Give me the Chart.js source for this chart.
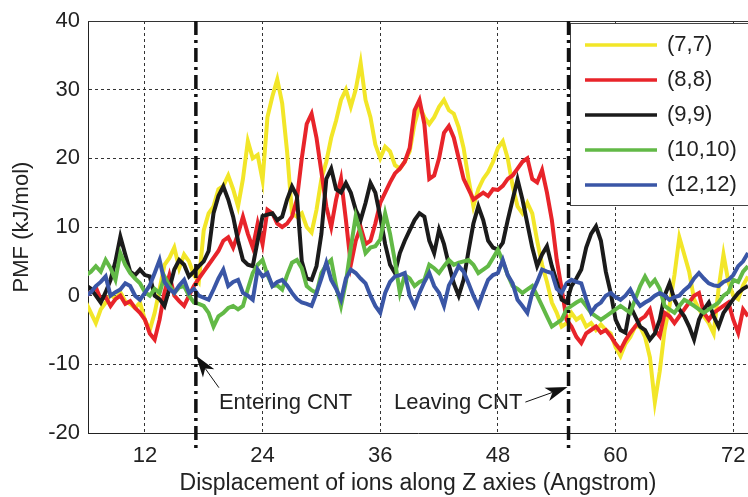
<!DOCTYPE html>
<html>
<head>
<meta charset="utf-8">
<script src="https://cdn.jsdelivr.net/npm/chart.js@4.4.0/dist/chart.umd.min.js"></script>
<style>
  html, body { margin: 0; padding: 0; background: #fff; }
  #wrap { width: 748px; height: 497px; }
</style>
</head>
<body>
<div id="wrap"><canvas id="pmf-chart" width="748" height="497"></canvas></div>
<script>
// Displacement of ions along Z (Angstrom)
const displacement = [
    6, 6.5, 7, 7.5, 8, 8.5, 9, 9.5, 10, 10.5, 11,
    11.5, 12, 12.5, 13, 13.5, 14, 14.5, 15, 15.5, 16,
    16.5, 17, 17.5, 18, 18.5, 19, 19.5, 20, 20.5, 21,
    21.5, 22, 22.5, 23, 23.5, 24, 24.5, 25, 25.5, 26,
    26.5, 27, 27.5, 28, 28.5, 29, 29.5, 30, 30.5, 31,
    31.5, 32, 32.5, 33, 33.5, 34, 34.5, 35, 35.5, 36,
    36.5, 37, 37.5, 38, 38.5, 39, 39.5, 40, 40.5, 41,
    41.5, 42, 42.5, 43, 43.5, 44, 44.5, 45, 45.5, 46,
    46.5, 47, 47.5, 48, 48.5, 49, 49.5, 50, 50.5, 51,
    51.5, 52, 52.5, 53, 53.5, 54, 54.5, 55, 55.5, 56,
    56.5, 57, 57.5, 58, 58.5, 59, 59.5, 60, 60.5, 61,
    61.5, 62, 62.5, 63, 63.5, 64, 64.5, 65, 65.5, 66,
    66.5, 67, 67.5, 68, 68.5, 69, 69.5, 70, 70.5, 71,
    71.5, 72, 72.5, 73, 73.5
];

// PMF (kJ/mol) per nanotube
const pmf77 = [
    -1, -2.5, -4, -2, -1, 0.2, -0.5, 0.5, -0.8, -1.2, -1.8,
    -1, -3.5, -5, -2.5, 1, 4.5, 5.5, 7, 4, 6,
    5, 3, 2, 9.5, 12, 13, 15.5, 16, 17.5, 15.5,
    13, 17, 22.5, 20, 20.5, 16.8, 26, 29, 31.5, 28,
    21, 12, 11.5, 12, 10, 9.2, 12.5, 17, 19.5, 23,
    25.5, 28.5, 30, 27.5, 30, 33.9, 28.5, 26, 22, 20,
    21.7, 21, 19, 18.5, 19.5, 21, 25, 27.6, 26, 25,
    26, 27.5, 28.5, 27, 26.5, 24.5, 21.5, 17, 13, 15.5,
    17, 18, 19.5, 21.5, 22.5, 20, 16, 13, 12, 13.5,
    12, 8, 4.5, 2, -1, -2.5, -4.5, -4, -2.5, -3.5,
    -3, -4.5, -4, -5, -4.2, -5, -5.5, -7.5, -8.8, -7,
    -6, -4.5, -4.5, -6, -9, -15.5, -11, -5, -1.5, 3,
    8.5, 6, 3.5, -0.5, -2, -3, -4, -5.5, 1, 6,
    2, 0, -0.5, 1.5, 2.8
];
const pmf88 = [
    0, 0.5, 1.2, -0.5, -0.2, -1.5, -0.5, 0, -1.2, -0.8, -1.8,
    -2.5, -3.5, -5.5, -6.4, -3.5, 0.5, 3, 0, -0.8, -1.5,
    0, 1.4, 2.5, 3.5, 4.5, 5.5, 6.5, 8, 8.5, 7,
    9, 11.5, 9, 7, 10.5, 7.5, 12.5, 12, 10.5, 10,
    10.5, 11.5, 14, 20, 25, 26.5, 23, 18, 13, 10,
    14, 17, 11, 4.5, 8, 10, 7.5, 8, 10.5, 13.5,
    15, 16.5, 17.8, 18.5, 19.5, 21.5, 27, 28.5, 25, 17,
    17.5, 20, 23.7, 24.7, 23, 20, 17, 15.5, 14, 14.5,
    15, 14.5, 15.5, 15.4, 16, 17, 17.5, 18.5, 19.5, 20,
    17, 16.5, 18.3, 15, 11, 5.2, 1, -3.5, -4.5, -6,
    -6.9, -5.5, -5, -4.5, -5.4, -5, -5.9, -7, -7.9, -6.5,
    -5.4, -4.5, -3.5, -3, -2, -5, -5.9, -2.5, -3, -4,
    -3, -2, -1, 0, 0.4, -2.5, -3.5, -2.5, -2, -1.5,
    -1, -3.5, -5.4, -2, -3
];
const pmf99 = [
    1.5, 1, 0, -1, 0.5, 2.3, 5, 8.6, 6, 3.5, 3,
    3.8, 3, 2.8, 0, -0.5, -1.5, 1, 3.8, 5.2, 4.5,
    2.8, 3.5, 4.3, 5, 6.5, 12, 14.5, 15.9, 14, 11.5,
    8, 5.2, 4.5, 4.3, 8, 11.6, 11.8, 12, 11, 11.5,
    14, 15.9, 14.5, 5, 2.5, 2.3, 4.3, 9, 17, 18.5,
    15.5, 15, 16.4, 15, 12.5, 11, 13.5, 16.4, 15, 11.5,
    7.5, 4.5, 3.3, 6.2, 8, 9.5, 11, 12, 11.5, 8,
    6.2, 9.6, 7.5, 4.5, 1.8, 0, 2.3, 6.5, 10.5, 13,
    11, 8, 7, 6.7, 7.7, 11, 14, 16.9, 14, 10.5,
    7, 4.3, 6, 7.2, 4.3, 2, -0.6, -1, 1.4, 2.5,
    3.8, 7, 9, 10.1, 8, 3.5, 0.4, -3.5, -5, -5.4,
    -1.5, -3, -4.5, -5, -6.4, -5.5, -3.5, 0, 1.8, -0.6,
    -2, -3, -4.5, -6.4, -3.5, -2, -1, -3, -4.5, -2.5,
    -1.5, -0.5, 0.4, 1, 1.4
];
const pmf1010 = [
    3, 3.5, 4.3, 3.5, 5.2, 4, 2.3, 6.2, 4.5, 3.3, 2.5,
    1.8, 0.5, 0, 1, 0.4, 2.8, 1.5, 0.4, 1.2, 1.4,
    0, -1, -1.2, -1.5, -2.5, -4.5, -3, -2.5, -1.8, -1.5,
    -2, -1.5, 1, 3.3, 4.5, 5.2, 3, 1.4, 1.5, 0.9,
    3, 4.8, 5.2, 4, 1.4, 0.8, 0.4, 3.3, 4.5, 5.2,
    1.4, -1.5, 2, 7, 11.6, 9.1, 6.2, 7, 7.2, 8.2,
    12, 9, 5, 0.4, 3, 2.5, 1.4, 2, 2.3, 4.5,
    4, 3.3, 4.3, 5.2, 4.5, 4.8, 5, 5.2, 4.5, 3.3,
    3.8, 4.3, 5.5, 6.7, 5, 3, 1.4, 1, 0.4, 0.9,
    1.4, 0, -1.5, -3, -4.5, -4, -3.5, -2, -1.5, -1,
    -0.6, -1.5, -2.5, -3, -3.5, -3, -2.5, -2, -1.5, -2,
    -2.5, -0.5, 1.4, 2.8, 1.5, 2.3, 1, -1.5, -2, -2.5,
    -1.5, -0.6, -1, -1.5, -2, -2.5, -2, -1.5, -1, 0,
    0.5, 2.3, 2, 3.5, 4.3
];
const pmf1212 = [
    0, 0.5, 1.4, 2, 2.8, 0, 0.5, 0.9, 1.8, 1.4, 0,
    -0.6, 0.4, 1.5, 3.3, 5.2, 2, 1, 0.4, 1.5, 2.3,
    0.4, 1, 0, -0.3, -0.6, 0.9, 2.5, 3.8, 1.4, 2,
    2.3, 0.4, 0, -0.6, 3.8, 2.8, 3.3, 1.4, 2, 2.3,
    1.5, 0.4, -0.5, -1, -1.2, -1.5, 0.4, 2.5, 4.8, 2.3,
    1, -0.6, 2.5, 3.8, 3.3, 2.5, 1.8, 0, -1.5, -2.5,
    0.4, 2, 2.8, 3, 3.3, 0, -1.5, 0.4, 2, 3.3,
    1.4, 0.4, -1.5, 1.5, 2.8, 4.3, 3.5, 1.8, 0, -1.5,
    0.5, 2.3, 3, 3.3, 5.2, 3, 1.8, -0.6, -1.5, -2.5,
    0.4, 2, 3.8, 3.5, 3.3, 1, 0.4, 1.8, 2.3, 2,
    1.8, -0.5, -2.5, -1.5, -1, 0, 0.4, -0.2, -0.6, 0,
    0.9, -0.5, -1.5, -1, -0.6, 0, 0.4, 0, -0.6, -0.2,
    0, 0.8, 1.4, 2.5, 3.3, 2.5, 1.8, 1.5, 1.4, 2,
    2.3, 3, 4.3, 5, 6.2
];

const seriesLabels = ['(7,7)', '(8,8)', '(9,9)', '(10,10)', '(12,12)'];
const seriesColors = ['#f2e628', '#e8242a', '#1b1b1b', '#62b946', '#3a56a6'];
const seriesValues = [pmf77, pmf88, pmf99, pmf1010, pmf1212];

const xTicks = [12, 24, 36, 48, 60, 72];
const cntBounds = [17.2, 55.2];   // entering / leaving the nanotube

const TEXT_COLOR = '#222';
const FONT = '"Liberation Sans", Arial, sans-serif';

function drawArrow(ctx, x0, y0, x1, y1) {
    const ang = Math.atan2(y1 - y0, x1 - x0);
    const c = Math.cos(ang), s = Math.sin(ang);
    const len = 22, half = 7;
    const bx = x1 - len * c, by = y1 - len * s;
    ctx.lineWidth = 1;
    ctx.beginPath();
    ctx.moveTo(x0, y0);
    ctx.lineTo(bx + 6 * c, by + 6 * s);
    ctx.stroke();
    ctx.beginPath();
    ctx.moveTo(x1, y1);
    ctx.lineTo(bx + half * s, by - half * c);
    ctx.lineTo(bx + 6 * c, by + 6 * s);
    ctx.lineTo(bx - half * s, by + half * c);
    ctx.closePath();
    ctx.fill();
}

function drawLegend(ctx, area) {
    const left = 570, top = 23, height = 182, rowH = 35;
    ctx.fillStyle = '#fff';
    ctx.fillRect(left, top, area.right - left + 5, height);
    ctx.strokeStyle = '#444';
    ctx.lineWidth = 1;
    ctx.strokeRect(left + 0.5, top + 0.5, area.right - left + 5, height);
    ctx.font = '22px ' + FONT;
    ctx.textBaseline = 'middle';
    ctx.textAlign = 'left';
    seriesLabels.forEach((lab, i) => {
        const yy = top + 22 + i * rowH;
        ctx.strokeStyle = seriesColors[i];
        ctx.lineWidth = 3.5;
        ctx.beginPath();
        ctx.moveTo(585, yy);
        ctx.lineTo(657, yy);
        ctx.stroke();
        ctx.fillStyle = TEXT_COLOR;
        ctx.fillText(lab, 667, yy);
    });
}

const frameAndNotes = {
    id: 'frameAndNotes',
    afterDatasetsDraw(chart) {
        const { ctx, chartArea: a, scales: { x, y } } = chart;
        ctx.save();
        // solid top frame
        ctx.strokeStyle = '#333';
        ctx.lineWidth = 1;
        ctx.beginPath();
        ctx.moveTo(a.left, a.top + 0.5);
        ctx.lineTo(a.right, a.top + 0.5);
        ctx.stroke();

        drawLegend(ctx, a);

        // dash-dot boundaries of the CNT
        ctx.strokeStyle = '#111';
        ctx.lineWidth = 3.5;
        ctx.setLineDash([14, 5, 3, 5]);
        cntBounds.forEach(v => {
            const px = x.getPixelForValue(v);
            ctx.beginPath();
            ctx.moveTo(px, a.top);
            ctx.lineTo(px, a.bottom + 17);
            ctx.stroke();
        });
        ctx.setLineDash([]);

        // annotations
        ctx.fillStyle = '#111';
        ctx.strokeStyle = '#111';
        drawArrow(ctx, x.getPixelForValue(19.55), y.getPixelForValue(-13.4),
                  x.getPixelForValue(cntBounds[0]), y.getPixelForValue(-8.7));
        drawArrow(ctx, x.getPixelForValue(50.8), y.getPixelForValue(-15.5),
                  x.getPixelForValue(cntBounds[1]) - 1, y.getPixelForValue(-13.3));

        ctx.fillStyle = TEXT_COLOR;
        ctx.font = '22px ' + FONT;
        ctx.textBaseline = 'middle';
        ctx.textAlign = 'left';
        ctx.fillText('Entering CNT', x.getPixelForValue(19.55), y.getPixelForValue(-15.6));
        ctx.textAlign = 'right';
        ctx.fillText('Leaving CNT', x.getPixelForValue(50.5), y.getPixelForValue(-15.6));
        ctx.restore();
    }
};

const ctx = document.getElementById('pmf-chart').getContext('2d');

new Chart(ctx, {
    type: 'line',
    data: {
        datasets: seriesValues.map((vals, i) => ({
            label: seriesLabels[i],
            data: displacement.map((d, k) => ({ x: d, y: vals[k] })),
            borderColor: seriesColors[i],
            borderWidth: 4,
            pointRadius: 0,
            tension: 0,
            fill: false,
            order: seriesValues.length - i
        }))
    },
    options: {
        responsive: false,
        animation: false,
        devicePixelRatio: 1,
        layout: { padding: { top: 21, right: 0, bottom: 0, left: 0 } },
        plugins: {
            legend: { display: false },
            tooltip: { enabled: false }
        },
        scales: {
            x: {
                type: 'linear',
                min: 6.2,
                max: 73.5,
                afterFit: s => { s.height = 64; s.paddingLeft = 0; s.paddingRight = 0; },
                afterBuildTicks: s => { s.ticks = xTicks.map(v => ({ value: v })); },
                grid: { color: '#333', lineWidth: 1, drawTicks: false },
                border: { color: '#222', dash: [3, 3] },
                ticks: { padding: 10, color: TEXT_COLOR, font: { family: FONT, size: 22 } },
                title: {
                    display: true,
                    text: 'Displacement of ions along Z axies (Angstrom)',
                    color: TEXT_COLOR,
                    font: { family: FONT, size: 23 },
                    padding: { top: 0, bottom: 0 }
                }
            },
            y: {
                min: -20,
                max: 40,
                afterFit: s => { s.width = 88; s.paddingTop = 0; s.paddingBottom = 0; },
                grid: { color: '#333', lineWidth: 1, drawTicks: false },
                border: { color: '#222', dash: [3, 3] },
                ticks: { stepSize: 10, padding: 8, color: TEXT_COLOR, font: { family: FONT, size: 22 } },
                title: {
                    display: true,
                    text: 'PMF (kJ/mol)',
                    color: TEXT_COLOR,
                    font: { family: FONT, size: 22 },
                    padding: { top: 9, bottom: 0 }
                }
            }
        }
    },
    plugins: [frameAndNotes]
});
</script>
</body>
</html>
